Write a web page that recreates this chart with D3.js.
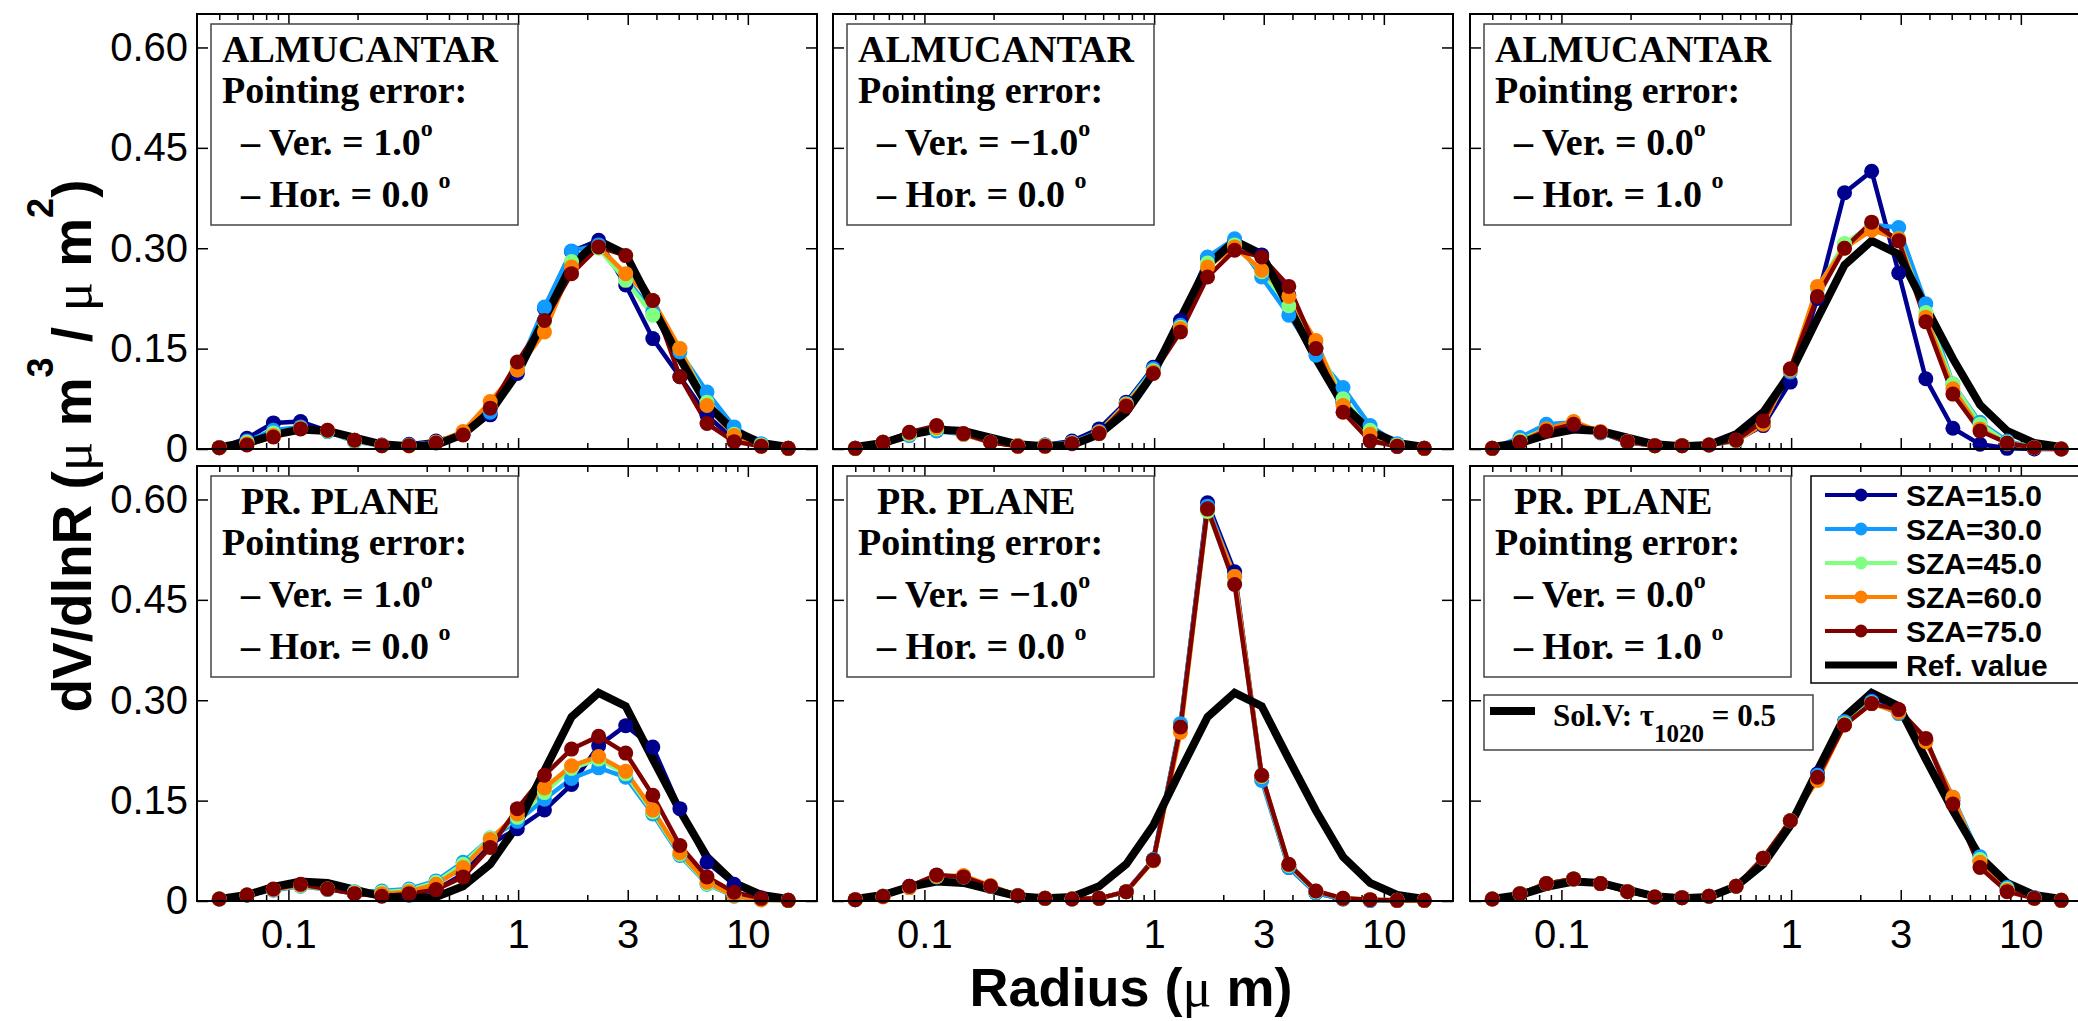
<!DOCTYPE html>
<html>
<head>
<meta charset="utf-8">
<script src="https://cdn.jsdelivr.net/npm/d3@7"></script>
<style>
  body { margin: 0; background: #fff; }
  svg { display: block; }
  .tick-label { font-family: "Liberation Sans", Arial, sans-serif; font-size: 40px; fill: #000; }
  .box-text { font-family: "Liberation Serif", "Times New Roman", serif; font-weight: bold; font-size: 38px; fill: #000; }
</style>
</head>
<body>
<svg id="chart"></svg>
<script>
// radius bins (um)
const radius = [0.050, 0.066, 0.086, 0.113, 0.148, 0.194, 0.255, 0.335, 0.439, 0.576, 0.756,
                0.992, 1.302, 1.708, 2.241, 2.940, 3.857, 5.061, 6.641, 8.713, 11.43, 15.00];

const szaLabels = ["SZA=15.0", "SZA=30.0", "SZA=45.0", "SZA=60.0", "SZA=75.0"];
const szaColors = ["#00008f", "#0f9bff", "#80ff80", "#ff8000", "#800000"];

const refValue = [0.003, 0.009, 0.021, 0.029, 0.027, 0.017, 0.007, 0.004, 0.006, 0.022, 0.055,
                  0.113, 0.195, 0.275, 0.311, 0.291, 0.212, 0.135, 0.066, 0.027, 0.009, 0.003];

// ALMUCANTAR, Ver = 1.0, Hor = 0.0
const almVerPos = [
  [0.002, 0.016, 0.039, 0.041, 0.027, 0.013, 0.006, 0.007, 0.012, 0.022, 0.051, 0.113, 0.210, 0.295, 0.312, 0.245, 0.165, 0.108, 0.050, 0.014, 0.005, 0.001],
  [0.002, 0.012, 0.028, 0.033, 0.026, 0.011, 0.005, 0.006, 0.010, 0.022, 0.055, 0.118, 0.212, 0.296, 0.305, 0.255, 0.205, 0.145, 0.085, 0.033, 0.008, 0.001],
  [0.002, 0.010, 0.024, 0.031, 0.027, 0.012, 0.005, 0.005, 0.010, 0.024, 0.062, 0.122, 0.190, 0.280, 0.300, 0.252, 0.200, 0.150, 0.070, 0.022, 0.006, 0.001],
  [0.002, 0.008, 0.020, 0.031, 0.028, 0.013, 0.005, 0.005, 0.010, 0.026, 0.071, 0.118, 0.175, 0.272, 0.302, 0.262, 0.222, 0.150, 0.065, 0.020, 0.005, 0.001],
  [0.002, 0.006, 0.018, 0.030, 0.028, 0.013, 0.005, 0.005, 0.009, 0.021, 0.061, 0.130, 0.192, 0.262, 0.302, 0.289, 0.222, 0.108, 0.038, 0.011, 0.004, 0.001]
];

// ALMUCANTAR, Ver = -1.0, Hor = 0.0
const almVerNeg = [
  [0.001, 0.010, 0.024, 0.030, 0.022, 0.010, 0.005, 0.006, 0.012, 0.030, 0.070, 0.122, 0.192, 0.285, 0.310, 0.290, 0.230, 0.150, 0.070, 0.020, 0.004, 0.001],
  [0.001, 0.010, 0.020, 0.027, 0.022, 0.010, 0.005, 0.006, 0.010, 0.026, 0.068, 0.120, 0.185, 0.287, 0.314, 0.257, 0.200, 0.140, 0.092, 0.035, 0.008, 0.001],
  [0.001, 0.010, 0.022, 0.030, 0.022, 0.010, 0.005, 0.005, 0.009, 0.025, 0.067, 0.117, 0.182, 0.278, 0.305, 0.265, 0.214, 0.158, 0.075, 0.028, 0.006, 0.001],
  [0.001, 0.010, 0.024, 0.032, 0.022, 0.010, 0.005, 0.005, 0.009, 0.025, 0.066, 0.115, 0.180, 0.272, 0.302, 0.267, 0.228, 0.162, 0.065, 0.022, 0.005, 0.001],
  [0.001, 0.010, 0.025, 0.035, 0.023, 0.010, 0.004, 0.004, 0.008, 0.023, 0.064, 0.113, 0.175, 0.257, 0.297, 0.287, 0.243, 0.150, 0.055, 0.012, 0.004, 0.001]
];

// ALMUCANTAR, Ver = 0.0, Hor = 1.0
const almHor = [
  [0.001, 0.012, 0.030, 0.036, 0.025, 0.010, 0.005, 0.005, 0.006, 0.013, 0.035, 0.100, 0.225, 0.383, 0.415, 0.263, 0.105, 0.031, 0.007, 0.001, 0.000, 0.000],
  [0.001, 0.017, 0.037, 0.040, 0.024, 0.011, 0.005, 0.005, 0.006, 0.012, 0.038, 0.115, 0.240, 0.305, 0.335, 0.331, 0.217, 0.097, 0.040, 0.012, 0.002, 0.000],
  [0.001, 0.013, 0.030, 0.038, 0.025, 0.011, 0.005, 0.005, 0.006, 0.012, 0.038, 0.118, 0.240, 0.307, 0.335, 0.314, 0.204, 0.097, 0.037, 0.010, 0.002, 0.000],
  [0.001, 0.011, 0.030, 0.041, 0.026, 0.011, 0.005, 0.005, 0.006, 0.013, 0.037, 0.118, 0.243, 0.300, 0.327, 0.314, 0.197, 0.090, 0.030, 0.008, 0.002, 0.000],
  [0.001, 0.010, 0.027, 0.037, 0.025, 0.011, 0.005, 0.005, 0.006, 0.013, 0.042, 0.120, 0.228, 0.300, 0.339, 0.311, 0.190, 0.082, 0.027, 0.009, 0.002, 0.000]
];

// PR. PLANE, Ver = 1.0, Hor = 0.0
const ppVerPos = [
  [0.003, 0.009, 0.017, 0.024, 0.018, 0.011, 0.008, 0.009, 0.017, 0.040, 0.085, 0.108, 0.136, 0.174, 0.232, 0.262, 0.230, 0.138, 0.058, 0.025, 0.005, 0.001],
  [0.003, 0.009, 0.016, 0.022, 0.017, 0.014, 0.015, 0.018, 0.030, 0.058, 0.094, 0.119, 0.152, 0.183, 0.199, 0.185, 0.130, 0.068, 0.025, 0.007, 0.002, 0.001],
  [0.003, 0.009, 0.017, 0.023, 0.018, 0.013, 0.013, 0.016, 0.028, 0.055, 0.094, 0.125, 0.162, 0.198, 0.212, 0.190, 0.133, 0.070, 0.026, 0.008, 0.002, 0.001],
  [0.003, 0.009, 0.017, 0.024, 0.018, 0.012, 0.011, 0.014, 0.025, 0.050, 0.092, 0.130, 0.169, 0.202, 0.216, 0.194, 0.136, 0.072, 0.028, 0.008, 0.002, 0.001],
  [0.003, 0.009, 0.018, 0.025, 0.018, 0.011, 0.007, 0.011, 0.017, 0.036, 0.080, 0.138, 0.188, 0.227, 0.246, 0.221, 0.158, 0.083, 0.036, 0.013, 0.004, 0.001]
];

// PR. PLANE, Ver = -1.0, Hor = 0.0
const ppVerNeg = [
  [0.002, 0.007, 0.022, 0.038, 0.036, 0.022, 0.008, 0.004, 0.003, 0.004, 0.014, 0.062, 0.262, 0.595, 0.492, 0.185, 0.050, 0.012, 0.003, 0.001, 0.001, 0.001],
  [0.002, 0.007, 0.020, 0.036, 0.036, 0.022, 0.008, 0.004, 0.003, 0.004, 0.014, 0.062, 0.265, 0.590, 0.485, 0.180, 0.050, 0.012, 0.003, 0.001, 0.001, 0.001],
  [0.002, 0.007, 0.021, 0.037, 0.036, 0.022, 0.008, 0.004, 0.003, 0.004, 0.014, 0.060, 0.260, 0.582, 0.478, 0.186, 0.053, 0.014, 0.004, 0.002, 0.001, 0.001],
  [0.002, 0.006, 0.020, 0.037, 0.038, 0.023, 0.008, 0.004, 0.003, 0.004, 0.014, 0.060, 0.252, 0.585, 0.485, 0.187, 0.054, 0.015, 0.004, 0.002, 0.001, 0.001],
  [0.002, 0.007, 0.022, 0.039, 0.036, 0.022, 0.008, 0.004, 0.003, 0.004, 0.014, 0.061, 0.260, 0.586, 0.473, 0.188, 0.055, 0.015, 0.004, 0.002, 0.001, 0.001]
];

// PR. PLANE, Ver = 0.0, Hor = 1.0
const ppHor = [
  [0.003, 0.011, 0.026, 0.033, 0.026, 0.014, 0.006, 0.005, 0.007, 0.022, 0.064, 0.120, 0.190, 0.268, 0.300, 0.285, 0.240, 0.150, 0.060, 0.018, 0.005, 0.001],
  [0.003, 0.011, 0.026, 0.033, 0.026, 0.014, 0.006, 0.005, 0.007, 0.022, 0.064, 0.120, 0.188, 0.268, 0.298, 0.280, 0.240, 0.155, 0.066, 0.020, 0.005, 0.001],
  [0.003, 0.011, 0.026, 0.033, 0.026, 0.014, 0.006, 0.005, 0.007, 0.022, 0.064, 0.120, 0.185, 0.265, 0.296, 0.283, 0.240, 0.152, 0.062, 0.018, 0.004, 0.001],
  [0.003, 0.011, 0.026, 0.033, 0.026, 0.014, 0.006, 0.005, 0.007, 0.022, 0.064, 0.120, 0.180, 0.263, 0.295, 0.282, 0.238, 0.155, 0.058, 0.016, 0.004, 0.001],
  [0.003, 0.011, 0.026, 0.033, 0.026, 0.014, 0.006, 0.005, 0.007, 0.022, 0.064, 0.120, 0.185, 0.263, 0.295, 0.286, 0.243, 0.145, 0.050, 0.014, 0.004, 0.001]
];

const yTicks = [0, 0.15, 0.30, 0.45, 0.60];
const yTickLabels = ["0", "0.15", "0.30", "0.45", "0.60"];
const xTicks = [0.1, 1, 3, 10];
const xTickLabels = ["0.1", "1", "3", "10"];
const xMinor = [0.05, 0.06, 0.07, 0.08, 0.09, 0.2, 0.4, 0.5, 0.6, 0.7, 0.8, 0.9, 2, 4, 5, 6, 7, 8, 9];
const geomNames = ["ALMUCANTAR", "PR. PLANE"];
const verLabels = ["1.0", "\u22121.0", "0.0"];
const horLabels = ["0.0", "0.0", "1.0"];
const seriesByPanel = [[almVerPos, almVerNeg, almHor], [ppVerPos, ppVerNeg, ppHor]];

// Size
const W = 2078, H = 1021;
const panelW = 620, panelH = 435;
const colLeft = [197, 833, 1470];
const rowTop = [14, 466];

const svg = d3.select("#chart").attr("width", W).attr("height", H);

const x = d3.scaleLog().domain([0.04, 20]).range([0, panelW]);
const y = d3.scaleLinear().domain([0, 0.65]).range([panelH, 0]);

const line = d3.line().x((d, i) => x(radius[i])).y(d => y(d));

rowTop.forEach((top, row) => {
  colLeft.forEach((left, col) => {
    const g = svg.append("g").attr("transform", `translate(${left},${top})`);
    const series = seriesByPanel[row][col];

    // ticks (inward, mirrored)
    const axes = [
      [d3.axisBottom(x).tickValues(xTicks).tickSize(-11), `translate(0,${panelH})`],
      [d3.axisBottom(x).tickValues(xMinor).tickSize(-6), `translate(0,${panelH})`],
      [d3.axisTop(x).tickValues(xTicks).tickSize(-11), "translate(0,0)"],
      [d3.axisTop(x).tickValues(xMinor).tickSize(-6), "translate(0,0)"],
      [d3.axisLeft(y).tickValues(yTicks).tickSize(-11), "translate(0,0)"],
      [d3.axisRight(y).tickValues(yTicks).tickSize(-11), `translate(${panelW},0)`]
    ];
    axes.forEach(([ax, tr]) => {
      const a = g.append("g").attr("transform", tr).call(ax.tickFormat(""));
      a.select(".domain").remove();
      a.selectAll("line").attr("stroke", "#000").attr("stroke-width", 1.5);
    });

    if (col === 0) {
      const a = g.append("g").call(d3.axisLeft(y).tickValues(yTicks).tickSize(0).tickPadding(9)
        .tickFormat((d, i) => yTickLabels[i]));
      a.select(".domain").remove();
      a.selectAll("text").attr("class", "tick-label").attr("font-size", null).attr("font-family", null);
    }
    if (row === 1) {
      const a = g.append("g").attr("transform", `translate(0,${panelH})`)
        .call(d3.axisBottom(x).tickValues(xTicks).tickSize(0).tickPadding(19)
          .tickFormat((d, i) => xTickLabels[i]));
      a.select(".domain").remove();
      a.selectAll("text").attr("class", "tick-label").attr("font-size", null).attr("font-family", null);
    }

    // lines
    series.forEach((s, k) => {
      g.append("path").datum(s).attr("d", line)
        .attr("fill", "none").attr("stroke", szaColors[k]).attr("stroke-width", 4.5)
        .attr("stroke-linejoin", "round");
    });
    g.append("path").datum(refValue).attr("d", line)
      .attr("fill", "none").attr("stroke", "#000").attr("stroke-width", 8)
      .attr("stroke-linejoin", "miter");
    series.forEach((s, k) => {
      g.selectAll(null).data(s).enter().append("circle")
        .attr("cx", (d, i) => x(radius[i])).attr("cy", d => y(d))
        .attr("r", 7.5).attr("fill", szaColors[k]);
    });

    // frame
    g.append("rect").attr("width", panelW).attr("height", panelH)
      .attr("fill", "none").attr("stroke", "#000").attr("stroke-width", 2);

    // annotation box
    const box = g.append("g").attr("transform", "translate(14,10)");
    box.append("rect").attr("width", 307).attr("height", 201)
      .attr("fill", "#fff").attr("stroke", "#444").attr("stroke-width", 1.5);
    box.append("text").attr("class", "box-text").attr("x", row === 0 ? 11 : 30).attr("y", 38)
      .text(geomNames[row]);
    box.append("text").attr("class", "box-text").attr("x", 11).attr("y", 79).text("Pointing error:");
    const v = box.append("text").attr("class", "box-text").attr("x", 30).attr("y", 131);
    v.append("tspan").text(`\u2013 Ver. = ${verLabels[col]}`);
    v.append("tspan").attr("font-size", 24).attr("dy", -19).text("o");
    const h = box.append("text").attr("class", "box-text").attr("x", 30).attr("y", 183);
    h.append("tspan").text(`\u2013 Hor. = ${horLabels[col]} `);
    h.append("tspan").attr("font-size", 24).attr("dy", -19).text("o");
  });
});

// Legend (bottom-right panel)
const legend = svg.append("g").attr("transform", "translate(1811,476)");
legend.append("rect").attr("width", 280).attr("height", 207)
  .attr("fill", "#fff").attr("stroke", "#000").attr("stroke-width", 1.5);
const legendLabels = szaLabels.concat(["Ref. value"]);
const legendColors = szaColors.concat(["#000"]);
legendLabels.forEach((lab, i) => {
  const cy = 19 + i * 34;
  legend.append("line").attr("x1", 14).attr("x2", 86).attr("y1", cy).attr("y2", cy)
    .attr("stroke", legendColors[i]).attr("stroke-width", i < 5 ? 4 : 7);
  if (i < 5) legend.append("circle").attr("cx", 50).attr("cy", cy).attr("r", 6.5).attr("fill", legendColors[i]);
  legend.append("text").attr("x", 95).attr("y", cy + 11)
    .attr("font-family", "Liberation Sans, Arial, sans-serif").attr("font-weight", "bold")
    .attr("font-size", 30).text(lab);
});

// Sol.V box
const sol = svg.append("g").attr("transform", "translate(1484,695)");
sol.append("rect").attr("width", 329).attr("height", 55)
  .attr("fill", "#fff").attr("stroke", "#444").attr("stroke-width", 1.5);
sol.append("line").attr("x1", 6).attr("x2", 51).attr("y1", 16).attr("y2", 16)
  .attr("stroke", "#000").attr("stroke-width", 8);
const st = sol.append("text").attr("class", "box-text").attr("x", 69).attr("y", 31)
  .style("font-size", "31px");
st.append("tspan").text("Sol.V: \u03c4");
st.append("tspan").attr("dy", 16).style("font-size", "25px").text("1020");
st.append("tspan").attr("dy", -16).text(" = 0.5");

// Axis titles
const xt = svg.append("text").attr("x", 1131).attr("y", 1006).attr("text-anchor", "middle")
  .attr("font-family", "Liberation Sans, Arial, sans-serif").attr("font-weight", "bold").attr("font-size", 54);
xt.append("tspan").text("Radius (");
xt.append("tspan").attr("font-family", "Liberation Serif, serif").attr("font-weight", "normal").text("\u03bc");
xt.append("tspan").text(" m)");

const yt = svg.append("text").attr("transform", "translate(91,446) rotate(-90)").attr("text-anchor", "middle")
  .attr("font-family", "Liberation Sans, Arial, sans-serif").attr("font-weight", "bold").attr("font-size", 55);
yt.append("tspan").text("dV/dlnR (");
yt.append("tspan").attr("font-family", "Liberation Serif, serif").attr("font-weight", "normal").text("\u03bc");
yt.append("tspan").text(" m");
yt.append("tspan").attr("font-size", 36).attr("dy", -38).text("3");
yt.append("tspan").attr("dy", 38).text(" / ");
yt.append("tspan").attr("font-family", "Liberation Serif, serif").attr("font-weight", "normal").text("\u03bc");
yt.append("tspan").text(" m");
yt.append("tspan").attr("font-size", 36).attr("dy", -38).text("2");
yt.append("tspan").attr("dy", 38).text(")");
</script>
</body>
</html>
